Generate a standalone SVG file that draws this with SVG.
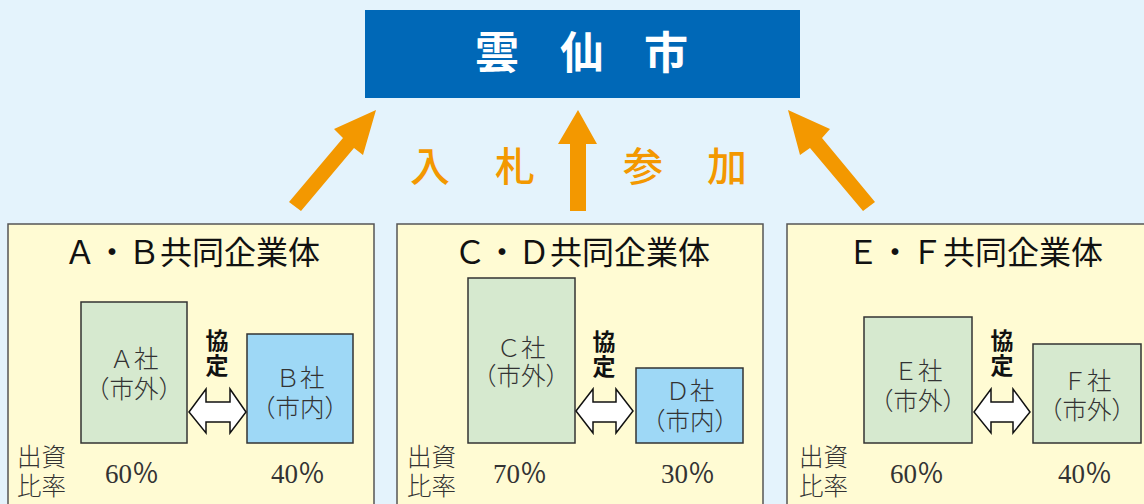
<svg xmlns="http://www.w3.org/2000/svg" width="1144" height="504" viewBox="0 0 1144 504">
<defs>
<style>
.panel{fill:#FFFBD3;stroke:#555;stroke-width:1.5}
.outer{fill:#D6E9CF;stroke:#333;stroke-width:1.5}
.inner{fill:#9ED8F6;stroke:#333;stroke-width:1.5}
.title{font-family:"Noto Sans CJK JP","Noto Sans",sans-serif;font-size:32px;fill:#111;text-anchor:middle}
.co{font-family:"Liberation Serif","Noto Sans CJK JP",serif;font-size:24.5px;fill:#333;text-anchor:middle;font-weight:300}
.kyo{font-family:"Noto Sans CJK JP",sans-serif;font-size:23px;font-weight:bold;fill:#111;text-anchor:start;writing-mode:vertical-rl;letter-spacing:2px}
.lbl{font-family:"Noto Sans CJK JP",serif;font-size:24.5px;fill:#333;font-weight:300}
.pct{font-family:"Liberation Serif","Noto Sans CJK JP",serif;font-size:27px;fill:#333;text-anchor:middle}
.dbl{fill:#fff;stroke:#111;stroke-width:1.5;stroke-linejoin:miter}
.orange{fill:#F39800}
.bid{font-family:"Noto Sans CJK JP",serif;font-size:40px;fill:#F39800;font-weight:500}
.city{font-family:"Noto Sans CJK JP",sans-serif;font-size:44px;font-weight:bold;fill:#fff;text-anchor:middle}
</style>
</defs>
<rect x="0" y="0" width="1144" height="504" fill="#E4F3FC"/>

<g id="city">
<rect x="365" y="10" width="435" height="88" fill="#0068B7"/>
<text class="city" x="497" y="69">雲</text>
<text class="city" x="582" y="69">仙</text>
<text class="city" x="666" y="69">市</text>
</g>

<g id="connectors">
<polygon class="orange" points="376,110 363,155 354,148 301,211 289,202 343,138 334,129"/>
<polygon class="orange" points="578,110 597,144 586,144 586,211 570,211 570,144 558,144"/>
<polygon class="orange" points="788,110 830,129 822,138 875,202 863,211 810,148 800,155"/>
<text class="bid" x="410" y="181">入</text>
<text class="bid" x="495" y="181">札</text>
<text class="bid" x="623" y="181">参</text>
<text class="bid" x="707" y="181">加</text>
</g>

<g id="jv-ab">
<rect class="panel" x="8" y="224" width="366" height="300"/>
<text class="title" x="192" y="264">Ａ・Ｂ共同企業体</text>
<rect class="outer" x="81" y="302" width="106" height="141"/>
<text class="co" x="134" y="368">Ａ社<tspan x="134" dy="30">（市外）</tspan></text>
<rect class="inner" x="247" y="334" width="106" height="109"/>
<text class="co" x="300" y="387">Ｂ社<tspan x="300" dy="30">（市内）</tspan></text>
<text class="kyo" x="217" y="329">協定</text>
<path class="dbl" d="M189,412 L206,389 L206,402 L230,402 L230,389 L246,412 L230,433 L230,422 L206,422 L206,433 Z"/>
<text class="lbl" x="17" y="466">出資<tspan x="17" dy="28.5">比率</tspan></text>
<text class="pct" x="132" y="483">60％</text>
<text class="pct" x="298" y="483">40％</text>
</g>

<g id="jv-cd">
<rect class="panel" x="397" y="224" width="366" height="300"/>
<text class="title" x="582" y="264">Ｃ・Ｄ共同企業体</text>
<rect class="outer" x="468" y="278" width="107" height="165"/>
<text class="co" x="521" y="357">Ｃ社<tspan x="521" dy="28">（市外）</tspan></text>
<rect class="inner" x="636" y="368" width="107" height="75"/>
<text class="co" x="690" y="400">Ｄ社<tspan x="690" dy="30">（市内）</tspan></text>
<text class="kyo" x="604" y="330">協定</text>
<path class="dbl" d="M576,411 L593,389 L593,402 L616,402 L616,389 L633,411 L616,433 L616,422 L593,422 L593,433 Z"/>
<text class="lbl" x="407" y="466">出資<tspan x="407" dy="28.5">比率</tspan></text>
<text class="pct" x="520" y="483">70％</text>
<text class="pct" x="688" y="483">30％</text>
</g>

<g id="jv-ef">
<rect class="panel" x="787" y="224" width="366" height="300"/>
<text class="title" x="975" y="264">Ｅ・Ｆ共同企業体</text>
<rect class="outer" x="864" y="317" width="108" height="126"/>
<text class="co" x="918" y="380">Ｅ社<tspan x="918" dy="30">（市外）</tspan></text>
<rect class="outer" x="1033" y="344" width="108" height="99"/>
<text class="co" x="1087" y="390">Ｆ社<tspan x="1087" dy="29">（市外）</tspan></text>
<text class="kyo" x="1002" y="329">協定</text>
<path class="dbl" d="M974,412 L991,389 L991,402 L1013,402 L1013,389 L1030,412 L1013,433 L1013,422 L991,422 L991,433 Z"/>
<text class="lbl" x="799" y="466">出資<tspan x="799" dy="28.5">比率</tspan></text>
<text class="pct" x="917" y="483">60％</text>
<text class="pct" x="1085" y="483">40％</text>
</g>
</svg>
